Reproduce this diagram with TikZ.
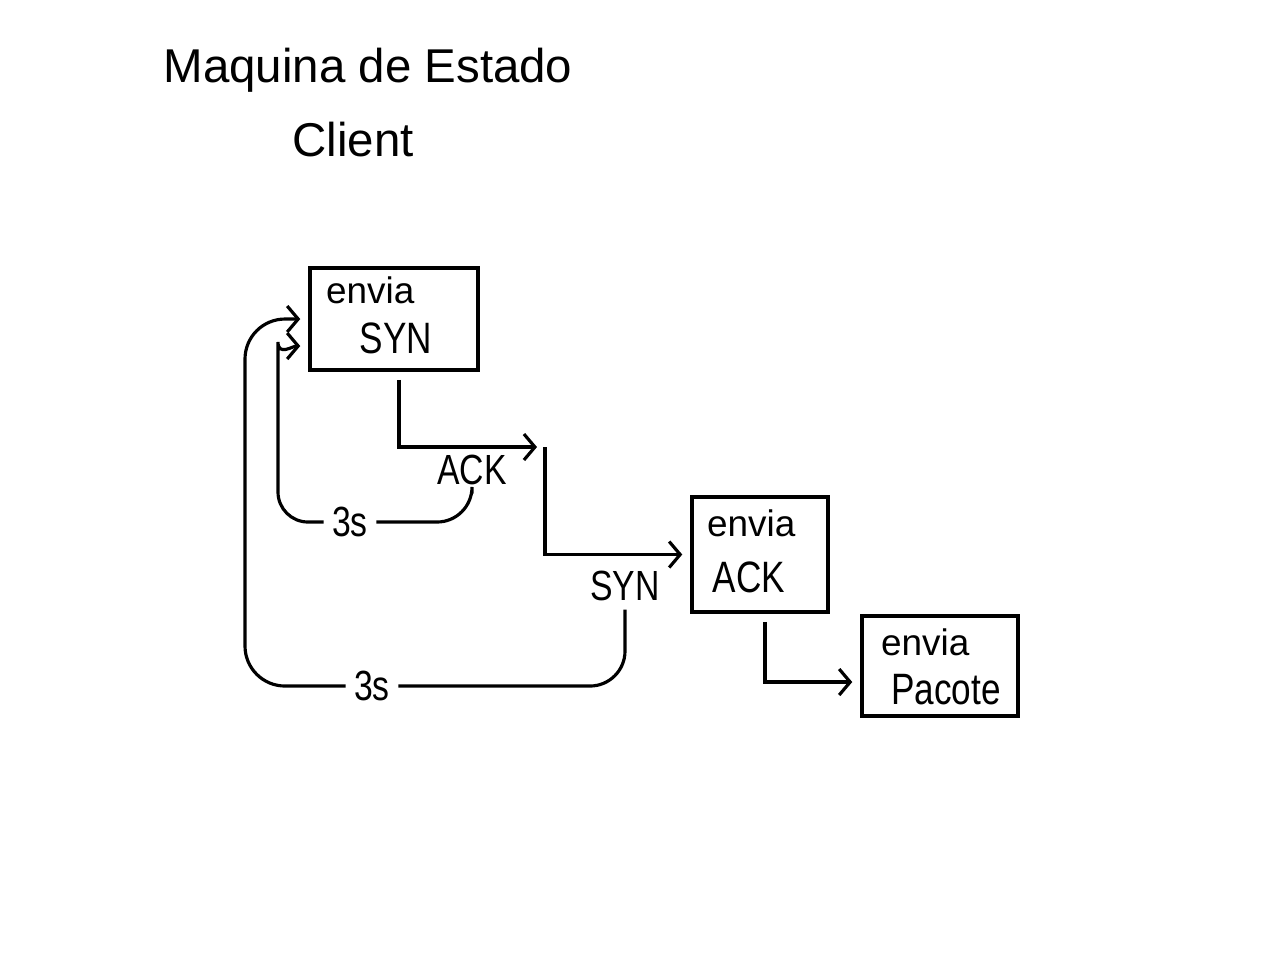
\documentclass[tikz,border=0pt]{standalone}
\usepackage{fontspec}
\setmainfont{Liberation Sans}
\newfontfamily\handfont[FakeStretch=0.8]{Liberation Sans}
\usetikzlibrary{arrows.meta, positioning, calc}

\begin{document}
\begin{tikzpicture}[
  >={Straight Barb[length=1.1mm, width=2.6mm]}, line width=0.9pt,
  state/.style={draw, line width=1pt, minimum width=#1, minimum height=1.02cm, inner sep=0pt},
  small/.style={font=\fontsize{10.5}{12}\selectfont, inner sep=1pt},
  big/.style={font=\handfont\fontsize{12.5}{15}\selectfont, inner sep=1pt},
  lbl/.style={font=\handfont\fontsize{12}{13}\selectfont, inner sep=2pt},
  arr/.style={->, shorten >=0.8mm},
  wire/.style={rounded corners=0.35cm}]
  \useasboundingbox (0,0) rectangle (12.8,-9.6);
  \node[font=\fontsize{13.5}{16}\selectfont] (title) at (3.68,-0.70) {Maquina de Estado};
  \node[font=\fontsize{13.5}{16}\selectfont] (client) at (3.53,-1.40) {Client};

  \node[state=1.68cm] (syn) at (3.94,-3.19) {};
  \node[small, anchor=west] (synA) at (3.21,-2.90) {envia};
  \node[big] (synB) at (3.96,-3.38) {SYN};

  \node[state=1.36cm, minimum height=1.15cm] (ack) at (7.60,-5.545) {};
  \node[small, anchor=west] (ackA) at (7.02,-5.23) {envia};
  \node[big] (ackB) at (7.49,-5.77) {ACK};

  \node[state=1.56cm, minimum height=1.0cm] (pac) at (9.40,-6.66) {};
  \node[small, anchor=west] (pacA) at (8.76,-6.42) {envia};
  \node[big] (pacB) at (9.46,-6.90) {Pacote};

  \node[lbl] (lack) at (4.72,-4.70) {ACK};
  \node[lbl] (lsyn) at (6.25,-5.86) {SYN};
  \node[lbl] (t1) at (3.50,-5.22) {3s};
  \node[lbl] (t2) at (3.72,-6.86) {3s};

  \coordinate (k1) at (5.45,-4.47);
  \coordinate (b1) at (2.78,-3.72);
  \coordinate (b2) at (2.45,-3.19);

  \draw[arr] ([xshift=0.5mm,yshift=-0.8mm]syn.south) |- (k1);
  \draw[arr] (k1) |- (ack.west);
  \draw[arr] ([xshift=0.5mm,yshift=-0.8mm]ack.south) |- ([yshift=-0.16cm]pac.west);

  \draw[wire] (lack.south) |- (t1.east);
  \draw[arr, rounded corners=0.3cm] (t1.west) -| (b1) to[out=90, in=180] ([yshift=-0.27cm]syn.west);
  \draw[wire] (lsyn.south) |- (t2.east);
  \draw[arr, wire, rounded corners=0.4cm] (t2.west) -| (b2) -- (syn.west);
\end{tikzpicture}
\end{document}
